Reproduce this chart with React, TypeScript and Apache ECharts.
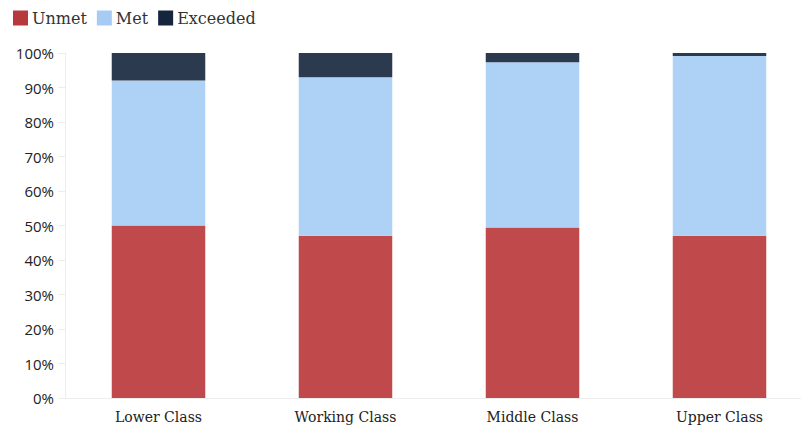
import React, { useEffect, useRef } from "react";
import * as echarts from "echarts";

const categories = ["Lower Class", "Working Class", "Middle Class", "Upper Class"];
const unmet = [50, 47, 49.4, 47];
const met = [42, 46, 47.9, 52.1];
const exceeded = [8, 7, 2.7, 0.9];
const seriesNames = ["Unmet", "Met", "Exceeded"];

const barColors = ["#C04A4B", "#AED1F6", "#2B3A4F"];
const legendColors = ["#B8393C", "#A6CBF5", "#15253D"];

export default function App() {
  const ref = useRef<HTMLDivElement>(null);
  useEffect(() => {
    if (!ref.current) return;
    const chart = echarts.init(ref.current, null, { renderer: "svg" });
    const serif = "DejaVu Serif";
    const data = [unmet, met, exceeded];
    chart.setOption({
      animation: false,
      backgroundColor: "#ffffff",
      legend: {
        left: 8,
        top: 5,
        itemWidth: 15,
        itemHeight: 15,
        itemGap: 10,
        icon: "rect",
        textStyle: { fontFamily: serif, fontSize: 16, color: "#333333", padding: [0, 0, 0, -1] },
        data: seriesNames.map((n, i) => ({ name: n, itemStyle: { color: legendColors[i] } })),
      },
      grid: { left: 65, top: 53, bottom: 31, right: 0, containLabel: false },
      xAxis: {
        type: "category",
        data: categories,
        axisLine: { lineStyle: { color: "#EDEDED" } },
        axisTick: { show: false },
        axisLabel: { fontFamily: serif, fontSize: 14, color: "#222222", margin: 12 },
      },
      yAxis: {
        type: "value",
        min: 0,
        max: 100,
        interval: 10,
        axisLine: { show: true, lineStyle: { color: "#EDEDED" } },
        axisTick: { show: true, length: 7, lineStyle: { color: "#EDEDED" } },
        splitLine: { show: false },
        axisLabel: {
          formatter: "{value}%",
          fontFamily: "Open Sans",
          fontSize: 15,
          color: "#222222",
          margin: 11,
        },
      },
      series: seriesNames.map((n, i) => ({
        name: n,
        type: "bar",
        stack: "total",
        barWidth: "50%",
        data: data[i],
        itemStyle: { color: barColors[i] },
      })),
    });
    return () => chart.dispose();
  }, []);
  return (
    <div style={{ position: "absolute", left: 0, top: 0, width: 801, height: 429, overflow: "hidden", background: "#fff" }}>
      <div ref={ref} style={{ width: 813, height: 429 }} />
    </div>
  );
}
